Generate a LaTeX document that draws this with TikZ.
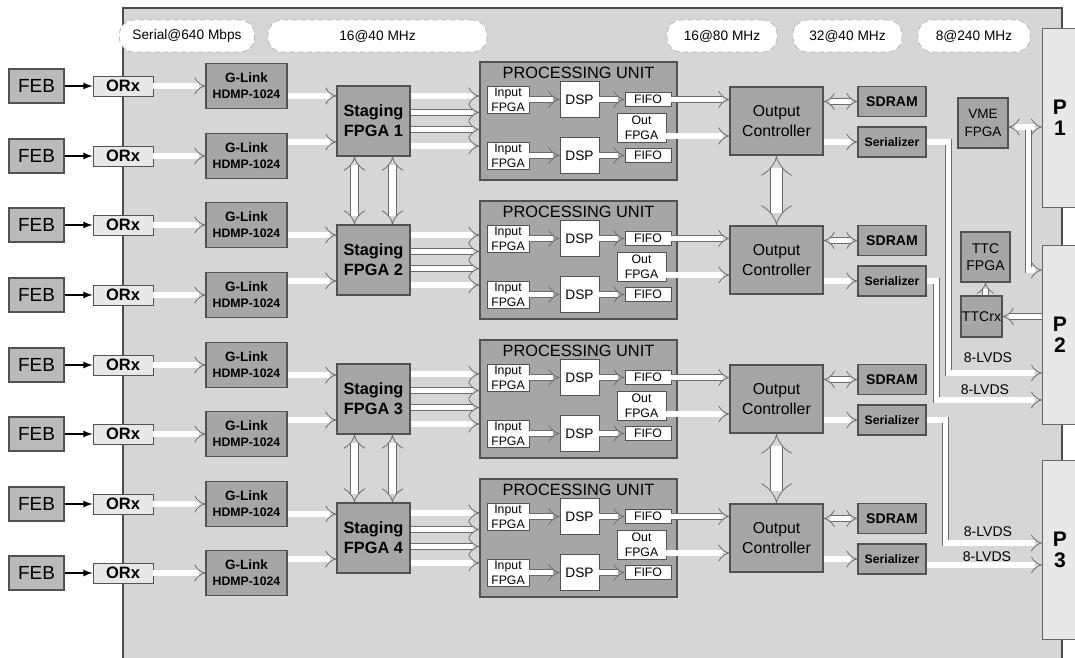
\documentclass[tikz,border=0pt]{standalone}
\usepackage{fontspec}
\setmainfont{Liberation Sans}
\usepackage{tikz}
\usetikzlibrary{arrows.meta}
\definecolor{board}{gray}{0.84}
\definecolor{chip}{gray}{0.65}
\definecolor{febgray}{gray}{0.73}
\definecolor{pale}{gray}{0.91}
\definecolor{rim}{gray}{0.32}
\tikzstyle{box} = [draw=rim,line width=0.6pt,inner sep=0pt,align=center]
\tikzstyle{chipbox} = [box,fill=chip]
\tikzstyle{wbox} = [box,fill=white,line width=0.5pt]
\tikzstyle{fpgabox} = [wbox,minimum width=0.84cm,minimum height=0.54cm,font=\fontsize{7}{8.5}\selectfont]
\tikzstyle{dspbox} = [wbox,minimum width=0.78cm,minimum height=0.72cm,font=\fontsize{7.8}{9}\selectfont]
\tikzstyle{fifobox} = [wbox,minimum width=0.92cm,minimum height=0.28cm,font=\fontsize{7}{8}\selectfont]
\tikzstyle{ctrlbox} = [chipbox,minimum width=1.86cm,minimum height=1.36cm,font=\fontsize{9}{11}\selectfont]
\tikzstyle{membox} = [chipbox,minimum width=1.36cm,minimum height=0.61cm,font=\bfseries\fontsize{8}{9}\selectfont]
\tikzstyle{pbox} = [box,fill=pale,draw=gray!80!black,line width=0.5pt,minimum width=0.7cm,minimum height=3.58cm,font=\bfseries\fontsize{12}{12}\selectfont]
\tikzstyle{pill} = [draw=gray!60,densely dashed,line width=0.4pt,fill=white,rounded corners=8pt,minimum height=0.64cm,inner sep=0pt,font=\fontsize{7.8}{9}\selectfont]
\tikzstyle{bus} = [draw=gray!85!black,line width=0.45pt,double=white,double distance=3pt,-{Implies}]
\tikzstyle{busboth} = [bus,Implies-Implies]
\tikzstyle{wire} = [draw=black,line width=0.8pt,-latex]
\tikzstyle{lvds} = [inner sep=0pt,font=\fontsize{8}{9}\selectfont]

\begin{document}
\begin{tikzpicture}[x=0.02cm,y=-0.02cm]

  \fill[white] (0,0) rectangle (1075,658);
  \useasboundingbox (0,0) rectangle (1075,658);

  % board
  \draw[draw=gray!60!black,fill=board,line width=0.6pt] (123,8) rectangle (1062,680);

  % clock rates
  \node[pill,minimum width=2.7cm] (rate1) at (187,36) {Serial@640 Mbps};
  \node[pill,minimum width=4.38cm] (rate2) at (377.5,36) {16@40 MHz};
  \node[pill,minimum width=2.2cm] (rate3) at (722,36) {16@80 MHz};
  \node[pill,minimum width=2.18cm] (rate4) at (847.5,36) {32@40 MHz};
  \node[pill,minimum width=2.24cm] (rate5) at (974,36) {8@240 MHz};

  % front end links
  \foreach \i/\y in {1/86,2/156,3/225,4/295,5/365,6/434,7/504,8/573}{
    \node[box,fill=febgray,minimum width=1.1cm,minimum height=0.68cm,font=\fontsize{10.8}{12}\selectfont] (feb\i) at (36.5,\y) {FEB};
    \node[box,fill=pale,line width=0.5pt,minimum width=1.2cm,minimum height=0.4cm,font=\bfseries\fontsize{9.4}{10}\selectfont] (orx\i) at (123,\y) {ORx};
    \node[chipbox,minimum width=1.62cm,minimum height=0.9cm,font=\bfseries\fontsize{7.7}{9}\selectfont] (gl\i) at (246.5,\y) {G-Link\\{\fontsize{7}{9}\selectfont HDMP-1024}};
    \draw[wire] (feb\i) -- (orx\i);
    \draw[bus] (orx\i) -- (gl\i);
  }

  % staging, processing units and output controllers
  \foreach \k/\a/\b/\y in {1/1/2/121,2/3/4/260,3/5/6/399,4/7/8/538}{
    \node[chipbox,minimum width=1.46cm,minimum height=1.4cm,font=\bfseries\fontsize{9.3}{11.3}\selectfont] (st\k) at (373.5,\y) {Staging\\FPGA \k};
    \node[chipbox,minimum width=3.94cm,minimum height=2.36cm] (pu\k) at (578.5,\y) {};
    \node[inner sep=0pt,font=\fontsize{9.3}{10}\selectfont] (put\k) at (578.5,\y-48) {PROCESSING UNIT};
    \node[fpgabox] (ina\k) at (508,\y-21.5) {Input\\FPGA};
    \node[fpgabox] (inb\k) at (508,\y+34.5) {Input\\FPGA};
    \node[dspbox] (dspa\k) at (579.5,\y-21.5) {DSP};
    \node[dspbox] (dspb\k) at (579.5,\y+34.5) {DSP};
    \node[fifobox] (fifa\k) at (648,\y-21.5) {FIFO};
    \node[fifobox] (fifb\k) at (648,\y+34.5) {FIFO};
    \node[wbox,minimum width=0.98cm,minimum height=0.58cm,font=\fontsize{7}{8.5}\selectfont] (outf\k) at (641.5,\y+6.5) {Out\\FPGA};
    \node[ctrlbox] (oc\k) at (776.5,\y) {Output\\Controller};
    \node[membox] (sd\k) at (892,\y-19.5) {SDRAM};
    \node[membox,minimum height=0.6cm,font=\bfseries\fontsize{7}{8}\selectfont] (se\k) at (892,\y+21) {Serializer};

    \draw[bus] ([yshift=-0.2cm]gl\a.east) -- ([yshift=-0.2cm]gl\a.east -| st\k.west);
    \draw[bus] ([yshift=0.28cm]gl\b.east) -- ([yshift=0.28cm]gl\b.east -| st\k.west);
    \foreach \d in {0.5,0.17,-0.17,-0.5}
      \draw[bus] ([yshift=\d cm]st\k.east) -- ([yshift=\d cm]st\k.east -| pu\k.west);
    \draw[bus] (ina\k) -- (ina\k -| dspa\k.west);
    \draw[bus] (inb\k) -- (inb\k -| dspb\k.west);
    \draw[bus] (dspa\k) -- (dspa\k -| fifa\k.west);
    \draw[bus] (dspb\k) -- (dspb\k -| fifb\k.west);
    \draw[bus] (fifa\k) -- (fifa\k -| oc\k.west);
    \draw[bus] ([yshift=-0.17cm]outf\k.east) -- ([yshift=-0.17cm]outf\k.east -| oc\k.west);
    \draw[busboth] (oc\k.east |- sd\k) -- (sd\k);
    \draw[bus] (oc\k.east |- se\k) -- (se\k);
  }

  % links between neighbours
  \foreach \u/\v in {1/2,3/4}{
    \draw[busboth,double distance=4pt] ([xshift=-0.38cm]st\u.south) -- ([xshift=-0.38cm]st\v.north);
    \draw[busboth,double distance=4pt] ([xshift=0.38cm]st\u.south) -- ([xshift=0.38cm]st\v.north);
    \draw[busboth,double distance=6pt] (oc\u) -- (oc\v);
  }

  % backplane side
  \node[chipbox,minimum width=1cm,minimum height=1cm,font=\fontsize{7.7}{10}\selectfont] (vme) at (983,123) {VME\\FPGA};
  \node[chipbox,minimum width=0.98cm,minimum height=1cm,font=\fontsize{8}{9.5}\selectfont] (ttc) at (985.5,257) {TTC\\FPGA};
  \node[chipbox,minimum width=0.82cm,minimum height=0.82cm,font=\fontsize{8}{9}\selectfont] (rx) at (981.5,316.5) {TTCrx};
  \node[pbox] (p1) at (1060,117.5) {P\\1};
  \node[pbox] (p2) at (1060,334.5) {P\\2};
  \node[pbox] (p3) at (1060,549.5) {P\\3};

  \draw[bus] ([xshift=0.4cm,yshift=-0.08cm]vme.east) |- ([yshift=1.29cm]p2.west);
  \draw[busboth] ([yshift=-0.08cm]vme.east) -- ([yshift=-0.08cm]vme.east -| p1.west);
  \draw[bus] (p2.west |- rx) -- (rx);
  \draw[bus] (ttc.south |- rx.north) -- (ttc.south);

  \draw[bus] (se1.east) -- ++(22,0) |- ([yshift=-0.77cm]p2.west);
  \draw[bus] (se2.east) -- ++(10,0) |- ([yshift=-1.31cm]p2.west);
  \draw[bus] (se3.east) -- ++(19,0) |- ([yshift=0.13cm]p3.west);
  \draw[bus] ([yshift=-0.12cm]se4.east) -- ([yshift=-0.12cm]se4.east -| p3.west);

  \node[lvds] (lv1) at (988,358) {8-LVDS};
  \node[lvds] (lv2) at (985,390) {8-LVDS};
  \node[lvds] (lv3) at (988,532) {8-LVDS};
  \node[lvds] (lv4) at (987,557) {8-LVDS};

\end{tikzpicture}
\end{document}
